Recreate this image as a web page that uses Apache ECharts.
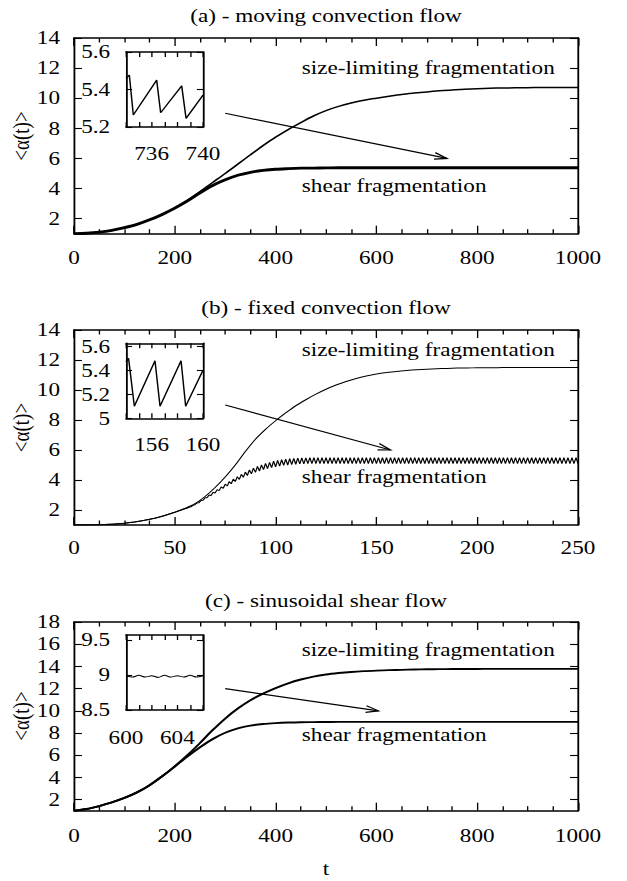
<!DOCTYPE html>
<html><head><meta charset="utf-8">
<script src="https://cdn.jsdelivr.net/npm/echarts@6/dist/echarts.min.js"></script>
<style>
html,body{margin:0;padding:0;background:#fff;overflow:hidden;}
#wrap{width:627px;height:881px;overflow:hidden;background:#fff;}
#chart{width:514px;height:881px;transform:scaleX(1.22);transform-origin:0 0;}
</style></head><body>
<div id="wrap"><div id="chart"></div></div>
<script>
// ---------------- data ----------------
const titles = ['(a) - moving convection flow', '(b) - fixed convection flow', '(c) - sinusoidal shear flow'];
const curveNames = ['size-limiting fragmentation', 'shear fragmentation'];
const yName = '<α(t)>';
const xName = 't';

// panel (a)  (t = 0, 25, ..., 1000)
const tA = [0,25,50,75,100,125,150,175,200,225,250,275,300,325,350,375,400,425,450,475,500,525,550,575,600,625,650,675,700,725,750,775,800,825,850,875,900,925,950,975,1000];
const sizeA = [1.0,1.03,1.1,1.22,1.4,1.62,1.92,2.28,2.7,3.2,3.8,4.4,5.0,5.62,6.24,6.85,7.42,7.92,8.38,8.82,9.18,9.46,9.68,9.86,10.0,10.13,10.25,10.34,10.42,10.49,10.55,10.59,10.63,10.66,10.68,10.69,10.7,10.71,10.72,10.72,10.72];
const shearA = [1.0,1.03,1.1,1.22,1.4,1.62,1.92,2.28,2.7,3.18,3.72,4.2,4.58,4.88,5.08,5.2,5.28,5.32,5.35,5.36,5.37,5.38,5.38,5.38,5.38,5.38,5.38,5.38,5.38,5.38,5.38,5.38,5.38,5.38,5.38,5.38,5.38,5.38,5.38,5.38,5.38];
const xTicksA = [0,200,400,600,800,1000];
const yTicksA = [2,4,6,8,10,12,14];

// panel (b)  (t = 0, 5, ..., 250)
const tB = [0,5,10,15,20,25,30,35,40,45,50,55,60,65,70,75,80,85,90,95,100,105,110,115,120,125,130,135,140,145,150,155,160,165,170,175,180,185,190,195,200,205,210,215,220,225,230,235,240,245,250];
const sizeB = [1.0,1.0,1.01,1.03,1.06,1.12,1.2,1.31,1.45,1.63,1.85,2.1,2.42,2.9,3.5,4.2,5.0,5.9,6.72,7.38,7.95,8.47,8.95,9.35,9.72,10.05,10.33,10.57,10.77,10.93,11.06,11.16,11.24,11.3,11.35,11.39,11.42,11.44,11.46,11.47,11.48,11.49,11.49,11.5,11.5,11.5,11.5,11.5,11.5,11.5,11.5];
const tBHead = [0,5,10,15,20,25,30,35,40,45,50,55];
const shearBHead = [1.0,1.0,1.01,1.03,1.06,1.12,1.2,1.31,1.45,1.63,1.85,2.08];
const shearBZigStart = 56, shearBZigStep = 1;
const shearBZig = [
 2.12,2.18,2.21,2.31,2.35,2.47,2.49,2.64,2.65,2.82,
 2.81,3.00,2.97,3.18,3.13,3.36,3.29,3.54,3.45,3.72,
 3.60,3.89,3.75,4.06,3.90,4.22,4.04,4.38,4.18,4.53,
 4.30,4.67,4.41,4.79,4.51,4.91,4.60,5.01,4.69,5.10,
 4.76,5.18,4.83,5.25,4.88,5.31,4.93,5.35,4.97,5.39,
 5.00,5.42,5.03,5.44,5.05,5.46,5.07,5.48,5.08,5.48,
 5.09,5.49,5.09,5.49,5.09,
 5.49,5.09,5.49,5.09,5.49,5.09,5.49,5.09,5.49,5.09,
 5.49,5.09,5.49,5.09,5.49,5.09,5.49,5.09,5.49,5.09,
 5.49,5.09,5.49,5.09,5.49,5.09,5.49,5.09,5.49,5.09,
 5.49,5.09,5.49,5.09,5.49,5.09,5.49,5.09,5.49,5.09,
 5.49,5.09,5.49,5.09,5.49,5.09,5.49,5.09,5.49,5.09,
 5.49,5.09,5.49,5.09,5.49,5.09,5.49,5.09,5.49,5.09,
 5.49,5.09,5.49,5.09,5.49,5.09,5.49,5.09,5.49,5.09,
 5.49,5.09,5.49,5.09,5.49,5.09,5.49,5.09,5.49,5.09,
 5.49,5.09,5.49,5.09,5.49,5.09,5.49,5.09,5.49,5.09,
 5.49,5.09,5.49,5.09,5.49,5.09,5.49,5.09,5.49,5.09,
 5.49,5.09,5.49,5.09,5.49,5.09,5.49,5.09,5.49,5.09,
 5.49,5.09,5.49,5.09,5.49,5.09,5.49,5.09,5.49,5.09,
 5.49,5.09,5.49,5.09,5.49,5.09,5.49,5.09,5.49,5.09
];
const xTicksB = [0,50,100,150,200,250];
const yTicksB = [2,4,6,8,10,12,14];

// panel (c)  (t = 0, 25, ..., 1000)
const tC = [0,25,50,75,100,125,150,175,200,225,250,275,300,325,350,375,400,425,450,475,500,525,550,575,600,625,650,675,700,725,750,775,800,825,850,875,900,925,950,975,1000];
const sizeC = [1.0,1.15,1.42,1.75,2.15,2.65,3.3,4.1,5.0,6.0,7.1,8.25,9.3,10.2,10.95,11.55,12.05,12.48,12.82,13.08,13.27,13.4,13.5,13.57,13.62,13.66,13.69,13.72,13.74,13.75,13.76,13.77,13.77,13.78,13.78,13.78,13.78,13.78,13.78,13.78,13.78];
const shearC = [1.0,1.15,1.42,1.75,2.15,2.65,3.3,4.1,4.98,5.88,6.72,7.45,8.02,8.42,8.67,8.81,8.89,8.94,8.97,8.98,8.99,9.0,9.0,9.0,9.0,9.0,9.0,9.0,9.0,9.0,9.0,9.0,9.0,9.0,9.0,9.0,9.0,9.0,9.0,9.0,9.0];
const xTicksC = [0,200,400,600,800,1000];
const yTicksC = [2,4,6,8,10,12,14,16,18];

// insets
const tIA = [734,734.26,734.57,736.39,736.7,738.34,738.68,740];
const vIA = [5.46,5.477,5.264,5.45,5.276,5.419,5.246,5.37];
const xLabIA = [736,740];
const yLabIA = [5.2,5.4,5.6];

const tIB = [154,154.2,154.65,156.26,156.65,158.29,158.65,160];
const vIB = [5.47,5.5,5.10,5.48,5.10,5.48,5.10,5.40];
const xLabIB = [156,160];
const yLabIB = [5,5.2,5.4,5.6];

const tIC = [600,600.5,601,601.5,602,602.5,603,603.5,604,604.5,605,605.5,606];
const vIC = [8.99,8.97,8.995,8.97,8.99,8.965,8.995,8.97,8.99,8.97,8.995,8.97,8.99];
const xLabIC = [600,604];
const yLabIC = [8.5,9,9.5];

// annotation anchors (data units) and arrows (data units)
const annotA = [[452,12.0],[452,4.19]];
const annotB = [[113,12.67],[113,4.2]];
const annotC = [[452,15.48],[452,7.82]];
const arrowA = [[300,9],[740,6]];
const arrowB = [[75,9],[157,6]];
const arrowC = [[300,12],[604,10]];

// ---------------- layout ----------------
const S = 1.22;
const FONT = 'Liberation Serif';
const FS = 19;
const zip = (t, v) => t.map((x, i) => [x, v[i]]);

const gridsReal = [
  {l:74, t:38, w:504, h:195.7},
  {l:74, t:330, w:504, h:195},
  {l:74, t:622, w:504, h:188.7},
  {l:126, t:52, w:77, h:75},
  {l:126, t:343.3, w:77, h:75},
  {l:126, t:635, w:77, h:75}
];
const grids = gridsReal.map(g => ({left:g.l/S, top:g.t, width:g.w/S, height:g.h, show:false}));
const xLabelMargin = [15, 13, 16, 17, 17, 18];

const axisCfg = [
  {x:{min:0,max:1000,interval:200,labels:xTicksA,minor:4}, y:{min:1,max:14,ticks:yTicksA}},
  {x:{min:0,max:250,interval:50,labels:xTicksB,minor:4}, y:{min:1,max:14,ticks:yTicksB}},
  {x:{min:0,max:1000,interval:200,labels:xTicksC,minor:4}, y:{min:1,max:18,ticks:yTicksC}},
  {x:{min:734,max:740,interval:1,labels:xLabIA}, y:{min:5.2,max:5.6,ticks:yLabIA}, inset:true},
  {x:{min:154,max:160,interval:1,labels:xLabIB}, y:{min:5,max:5.625,ticks:yLabIB}, inset:true},
  {x:{min:600,max:606,interval:1,labels:xLabIC}, y:{min:8.5,max:9.571,ticks:yLabIC}, inset:true}
];

const plain = v => String(Math.round(v*1000)/1000);
const xAxes = [], yAxes = [];
axisCfg.forEach((c, gi) => {
  ['bottom','top'].forEach(pos => {
    xAxes.push({
      type:'value', gridIndex:gi, position:pos, min:c.x.min, max:c.x.max, interval:c.x.interval,
      axisLine:{show:true, onZero:false, lineStyle:{color:'#000', width:1.6}},
      axisTick:{show:true, inside:true, length:c.inset?5:8, lineStyle:{color:'#000', width:1.1}},
      minorTick:{show:!!c.x.minor, splitNumber:c.x.minor||5, length:4.5, lineStyle:{color:'#000', width:1.1}},
      axisLabel:{show:pos==='bottom', customValues:c.x.labels, formatter:plain, fontFamily:FONT, fontSize:FS, color:'#000', margin:xLabelMargin[gi]},
      splitLine:{show:false}, minorSplitLine:{show:false}
    });
  });
  ['left','right'].forEach(pos => {
    yAxes.push({
      type:'value', gridIndex:gi, position:pos, min:c.y.min, max:c.y.max,
      axisLine:{show:true, onZero:false, lineStyle:{color:'#000', width:1.5}},
      axisTick:{show:true, inside:true, length:c.inset?5:6.5, customValues:c.y.ticks, lineStyle:{color:'#000', width:1.1}},
      axisLabel:{show:pos==='left', customValues:c.y.ticks, formatter:plain, fontFamily:FONT, fontSize:FS, color:'#000', margin:c.inset?13:11.5},
      splitLine:{show:false}
    });
  });
});

function line(gi, data, width, smooth) {
  return {type:'line', xAxisIndex:2*gi, yAxisIndex:2*gi, data:data, showSymbol:false, symbol:'none',
    smooth:smooth?0.3:false,
    lineStyle:{color:'#000', width:width}, animation:false, silent:true};
}

const shearBData = zip(tBHead, shearBHead).concat(shearBZig.map((v, i) => [shearBZigStart + i*shearBZigStep, v]));

const series = [
  line(0, zip(tA, sizeA), 1.5, true),
  line(0, zip(tA, shearA), 2.8, true),
  line(1, zip(tB, sizeB), 1.0, true),
  line(1, shearBData, 1.0, false),
  line(2, zip(tC, sizeC), 1.9, true),
  line(2, zip(tC, shearC), 1.9, true),
  line(3, zip(tIA, vIA), 1.2, false),
  line(4, zip(tIB, vIB), 1.2, false),
  line(5, zip(tIC, vIC), 1.0, true)
];

const chart = echarts.init(document.getElementById('chart'), null, {renderer:'svg'});
chart.setOption({animation:false, backgroundColor:'#fff', grid:grids, xAxis:xAxes, yAxis:yAxes, series:series});

// ---------------- texts and arrows ----------------
const fontStr = FS + 'px "' + FONT + '"';
function text(x, y, s, align, rot) {
  return {type:'text', x:x, y:y, rotation:rot||0, silent:true, z:100,
    style:{text:s, font:fontStr, fill:'#000', align:align, textAlign:align, verticalAlign:'middle', textVerticalAlign:'middle'}};
}
const gfx = [];
const titleY = [16, 307.5, 600.5];
const yNameY = [136, 427.5, 716];
titles.forEach((s, i) => gfx.push(text(326/S, titleY[i], s, 'center')));
yNameY.forEach(y => gfx.push(text(21.7/S, y, yName, 'center', Math.PI/2)));
gfx.push(text(326/S, 869, xName, 'center'));

[annotA, annotB, annotC].forEach((an, p) => {
  an.forEach((pt, k) => {
    const px = chart.convertToPixel({xAxisIndex:2*p, yAxisIndex:2*p}, pt);
    gfx.push(text(px[0], px[1], curveNames[k], 'left'));
  });
});

[arrowA, arrowB, arrowC].forEach((ar, p) => {
  const a = chart.convertToPixel({xAxisIndex:2*p, yAxisIndex:2*p}, ar[0]);
  const b = chart.convertToPixel({xAxisIndex:2*p, yAxisIndex:2*p}, ar[1]);
  const ax = a[0]*S, ay = a[1], bx = b[0]*S, by = b[1];
  const L = Math.hypot(bx-ax, by-ay), ux = (bx-ax)/L, uy = (by-ay)/L;
  const hl = 13, ang = 15*Math.PI/180;
  const c = Math.cos(ang), s = Math.sin(ang);
  const h1 = [bx - hl*(ux*c - uy*s), by - hl*(ux*s + uy*c)];
  const h2 = [bx - hl*(ux*c + uy*s), by - hl*(-ux*s + uy*c)];
  gfx.push({type:'line', silent:true, z:90, shape:{x1:a[0], y1:a[1], x2:b[0], y2:b[1]}, style:{stroke:'#000', lineWidth:1.2}});
  gfx.push({type:'polyline', silent:true, z:90, shape:{points:[[h1[0]/S,h1[1]],[b[0],b[1]],[h2[0]/S,h2[1]]]}, style:{stroke:'#000', fill:null, lineWidth:1.2}});
});

chart.setOption({graphic:gfx});
</script>
</body></html>
